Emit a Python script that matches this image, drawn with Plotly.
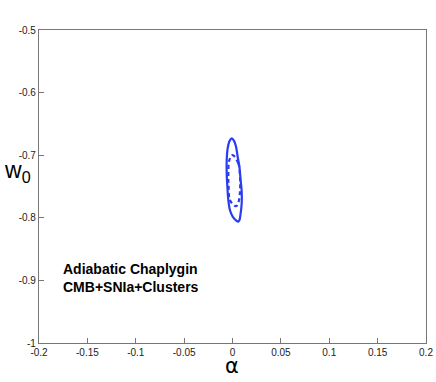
import plotly.graph_objects as go

# contour outlines (alpha, w0)
outer_alpha = [-0.0009, 0.0016, 0.0036, 0.0053, 0.0071, 0.0084, 0.0095, 0.0095, 0.0084, 0.0071,
               0.0060, 0.0036, 0.0002, -0.0026, -0.0043, -0.0053, -0.0060, -0.0060, -0.0050,
               -0.0033, -0.0009]
outer_w0 = [-0.673, -0.677, -0.686, -0.702, -0.718, -0.740, -0.758, -0.777, -0.793, -0.804,
            -0.806, -0.804, -0.798, -0.788, -0.772, -0.750, -0.729, -0.708, -0.689,
            -0.678, -0.673]

inner_alpha = [0.0002, 0.0060, 0.0078, 0.0078, 0.0067, 0.0043, 0.0026, -0.0026, -0.0040,
               -0.0043, -0.0033, 0.0002]
inner_w0 = [-0.700, -0.713, -0.734, -0.756, -0.772, -0.781, -0.781, -0.772, -0.750,
            -0.729, -0.708, -0.700]

x_ticks = [-0.2, -0.15, -0.1, -0.05, 0, 0.05, 0.1, 0.15, 0.2]
x_labels = ["-0.2", "-0.15", "-0.1", "-0.05", "0", "0.05", "0.1", "0.15", "0.2"]
y_ticks = [-1, -0.9, -0.8, -0.7, -0.6, -0.5]
y_labels = ["-1", "-0.9", "-0.8", "-0.7", "-0.6", "-0.5"]

blue = "#2a3cf2"

fig = go.Figure()
fig.add_trace(go.Scatter(x=outer_alpha, y=outer_w0, mode="lines",
                         line=dict(color=blue, width=2.2, shape="spline"), showlegend=False))
fig.add_trace(go.Scatter(x=inner_alpha, y=inner_w0, mode="lines",
                         line=dict(color=blue, width=2.2, dash="4px,3px", shape="spline"),
                         showlegend=False))

axis_style = dict(showline=True, linecolor="#777777", linewidth=1.2, mirror=True,
                  ticks="inside", ticklen=5, tickcolor="#777777", showgrid=False,
                  zeroline=False, automargin=False,
                  tickfont=dict(family="Liberation Sans, Arial", size=10, color="#222222"))

# plot area in pixels
L, R, T, B = 39, 10, 30, 39
pw = 436 - L - R
ph = 382 - T - B

fig.update_layout(
    width=436, height=382,
    margin=dict(l=L, r=R, t=T, b=B),
    paper_bgcolor="white", plot_bgcolor="white",
    xaxis=dict(range=[-0.2, 0.2], tickvals=x_ticks, ticktext=x_labels, **axis_style),
    yaxis=dict(range=[-1, -0.5], tickvals=y_ticks, ticktext=y_labels, **axis_style),
    annotations=[
        dict(text="Adiabatic Chaplygin<br>CMB+SNIa+Clusters", x=-0.177, y=-0.896,
             xref="x", yref="y", xanchor="left", yanchor="middle", align="left",
             showarrow=False,
             font=dict(family="Liberation Sans, Arial", size=14, color="black", weight="bold")),
        dict(text="α", x=(232 - L) / pw, y=-(366 - (382 - B)) / ph, xref="paper", yref="paper",
             xanchor="center", yanchor="middle", showarrow=False,
             font=dict(family="DejaVu Sans", size=21, color="black")),
        dict(text="w<sub>0</sub>", x=(2 - L) / pw, y=((382 - B) - 171) / ph, xref="paper",
             yref="paper", xanchor="left", yanchor="middle", showarrow=False,
             font=dict(family="Liberation Sans, Arial", size=23, color="black")),
    ],
)

# drop the page's default body margin so the figure sits at the window's corner
fig.write_html("out.html", config={"displayModeBar": False},
               post_script="document.body.style.margin='0';")
